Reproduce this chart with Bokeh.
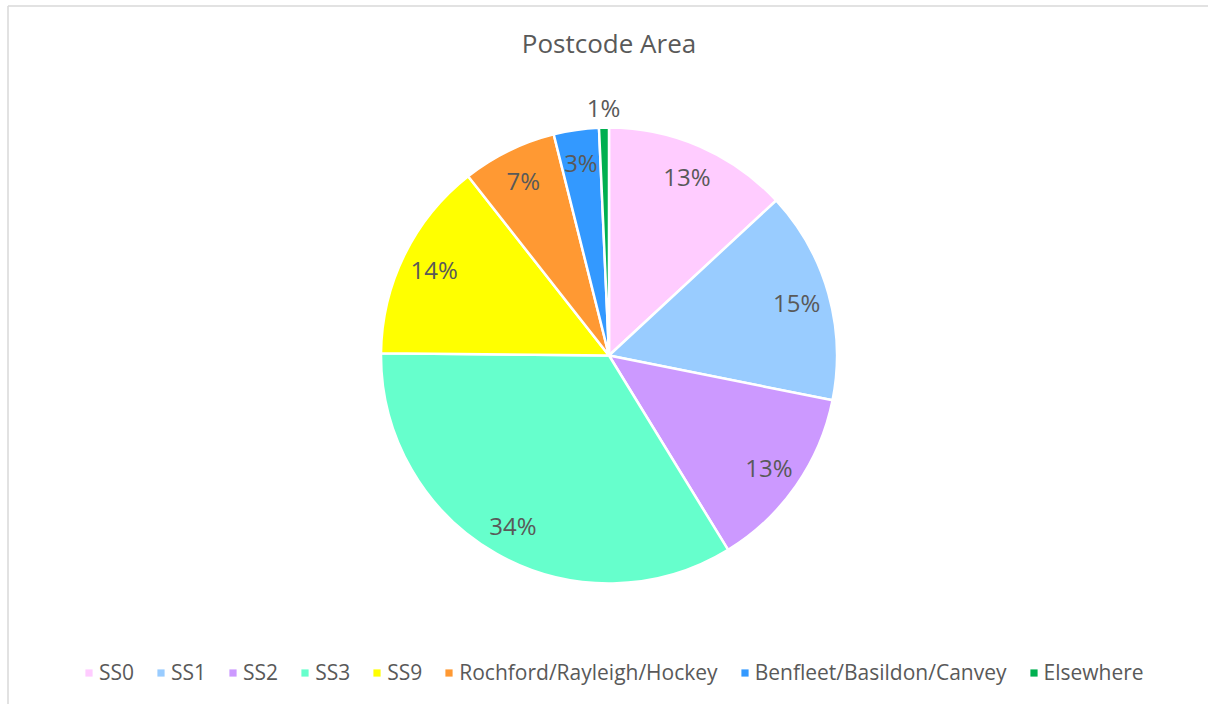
import math
from bokeh.plotting import figure
from bokeh.models import Range1d, ColumnDataSource, Legend, LegendItem, Label
from bokeh.core.properties import value
from bokeh.embed import file_html
from bokeh.resources import INLINE

# ---- data ----
categories = ["SS0", "SS1", "SS2", "SS3", "SS9",
              "Rochford/Rayleigh/Hockey", "Benfleet/Basildon/Canvey", "Elsewhere"]
shares = [13.1, 15.05, 13.1, 33.9, 14.25, 6.7, 3.2, 0.7]
labels = ["13%", "15%", "13%", "34%", "14%", "7%", "3%", "1%"]
colors = ["#FFCCFF", "#99CCFF", "#CC99FF", "#66FFCC", "#FFFF00",
          "#FF9933", "#3399FF", "#00B050"]
title_text = "Postcode Area"

# ---- layout constants ----
W, H = 1208, 704
CX, CY = 608.5, H - 355.0
R = 228.0
FONT = "Open Sans"
TXT = "#595959"
BORDER = "#D9D9D9"

total = sum(shares)
starts, ends, lx, ly = [], [], [], []
acc = 0.0
for s in shares:
    a0 = acc / total * 2 * math.pi          # clockwise from top
    acc += s
    a1 = acc / total * 2 * math.pi
    starts.append(math.pi / 2 - a1)
    ends.append(math.pi / 2 - a0)
    mid = (a0 + a1) / 2
    rr = R * 0.855 if s >= 2 else R + 20
    lx.append(CX + rr * math.sin(mid))
    ly.append(CY + rr * math.cos(mid))

src = ColumnDataSource(dict(cat=categories, start=starts, end=ends,
                            color=colors, lx=lx, ly=ly, label=labels))

p = figure(width=W, height=H, x_range=Range1d(0, W), y_range=Range1d(0, H),
           output_backend="svg", toolbar_location=None, min_border=0,
           x_axis_type=None, y_axis_type=None)
p.grid.visible = False
p.outline_line_color = None
p.background_fill_color = "white"
p.border_fill_color = "white"

# chart-area border (left and top edges visible in the crop)
p.segment(x0=[7.5, 7.5], y0=[0, H - 5.5], x1=[7.5, W], y1=[H - 5.5, H - 5.5],
          line_color=BORDER, line_width=1.5)

p.wedge(x=CX, y=CY, radius=R, start_angle="start", end_angle="end",
        direction="anticlock", fill_color="color", line_color="white",
        line_width=2.5, source=src)

p.text(x="lx", y="ly", text="label", source=src, text_align="center",
       text_baseline="middle", text_font=value(FONT), text_font_size="24px",
       text_color=TXT)

p.add_layout(Label(x=CX, y=H - 42, text=title_text, text_align="center",
                   text_baseline="middle", text_font=FONT,
                   text_font_size="26px", text_color=TXT))

# legend proxies (squares)
items = []
for i, c in enumerate(categories):
    r = p.quad(left=[0], right=[0], top=[0], bottom=[0], fill_color=colors[i],
               line_color=None)
    items.append(LegendItem(label=c, renderers=[r]))

leg = Legend(items=items, orientation="horizontal", location=(84, 18),
             glyph_width=9, glyph_height=9, label_standoff=6, spacing=22,
             label_text_font=FONT, label_text_font_size="21px",
             label_text_color=TXT, border_line_color=None,
             background_fill_alpha=0, padding=0, margin=0,
             label_height=20, label_text_baseline="middle")
p.add_layout(leg)

open("out.html", "w").write(file_html(p, INLINE))
